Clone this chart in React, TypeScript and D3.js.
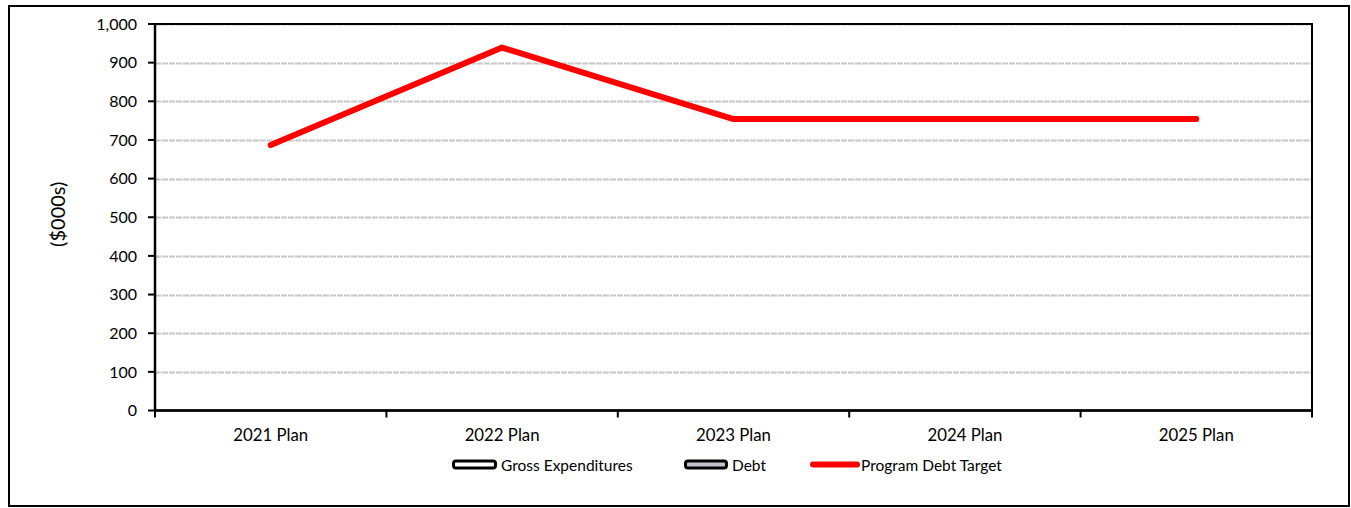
import React from "react";
import * as d3 from "d3";

const categories = ["2021 Plan", "2022 Plan", "2023 Plan", "2024 Plan", "2025 Plan"];
const programDebtTarget = [687, 939, 754, 754, 754];
const yTicks = [0, 100, 200, 300, 400, 500, 600, 700, 800, 900, 1000];
const legendItems = ["Gross Expenditures", "Debt", "Program Debt Target"];

const W = 1351;
const H = 508;
const FONT = "Lato, 'Open Sans', sans-serif";

export default function App() {
  const left = 155, right = 1312, top = 24, bottom = 410.5;
  const x = d3.scaleBand<string>().domain(categories).range([left, right]).padding(0);
  const y = d3.scaleLinear().domain([0, 1000]).range([bottom, top]);
  const fmt = d3.format(",");
  const line = d3
    .line<number>()
    .x((_, i) => (x(categories[i]) as number) + x.bandwidth() / 2)
    .y((d) => y(d));
  const boundaries = categories.map((c) => x(c) as number).concat([right]);

  return (
    <svg width={W} height={H} style={{ position: "absolute", left: 0, top: 0 }}>
      <rect x={9} y={6} width={1340} height={500} fill="#fff" stroke="#000" strokeWidth={2} />
      {yTicks.slice(1).map((t) => (
        <line key={"g" + t} x1={left} x2={right} y1={Math.round(y(t)) + 0.5} y2={Math.round(y(t)) + 0.5} stroke="#c8c8c8" strokeWidth={2} strokeDasharray="6,1" />
      ))}
      <rect x={left} y={top} width={right - left} height={bottom - top} fill="none" stroke="#000" strokeWidth={2} />
      <line x1={left} x2={right} y1={bottom} y2={bottom} stroke="#000" strokeWidth={2.5} />
      <line x1={left} x2={left} y1={top} y2={bottom} stroke="#000" strokeWidth={2.5} />
      {yTicks.map((t) => (
        <g key={"t" + t}>
          <line x1={left - 7} x2={left} y1={y(t)} y2={y(t)} stroke="#000" strokeWidth={2} />
          <text x={left - 18} y={y(t)} dy="0.36em" textAnchor="end" fontFamily={FONT} fontSize={16} fill="#000">
            {fmt(t)}
          </text>
        </g>
      ))}
      {boundaries.map((b, i) => (
        <line key={"xb" + i} x1={b} x2={b} y1={bottom} y2={bottom + 7} stroke="#000" strokeWidth={2} />
      ))}
      {categories.map((c) => (
        <text key={c} x={(x(c) as number) + x.bandwidth() / 2} y={441} textAnchor="middle" fontFamily={FONT} fontSize={16.8} fill="#000">
          {c}
        </text>
      ))}
      <text transform={`translate(57,${(top + bottom) / 2 - 3}) rotate(-90)`} textAnchor="middle" dominantBaseline="central" fontFamily={FONT} fontSize={20} fill="#000">
        ($000s)
      </text>
      <path d={line(programDebtTarget) || ""} fill="none" stroke="#ff0000" strokeWidth={6} strokeLinecap="round" strokeLinejoin="round" />
      {/* legend */}
      <rect x={453.5} y={461} width={42} height={7} rx={2.5} fill="#fff" stroke="#000" strokeWidth={3} />
      <text x={501} y={471} fontFamily={FONT} fontSize={15.5} fill="#000">{legendItems[0]}</text>
      <rect x={685.5} y={461} width={41} height={7} rx={2.5} fill="#c0c4cc" stroke="#000" strokeWidth={3} />
      <text x={732} y={471} fontFamily={FONT} fontSize={15.5} fill="#000">{legendItems[1]}</text>
      <line x1={813} x2={857} y1={464.5} y2={464.5} stroke="#ff0000" strokeWidth={6} strokeLinecap="round" />
      <text x={861} y={471} fontFamily={FONT} fontSize={15.5} fill="#000">{legendItems[2]}</text>
    </svg>
  );
}
